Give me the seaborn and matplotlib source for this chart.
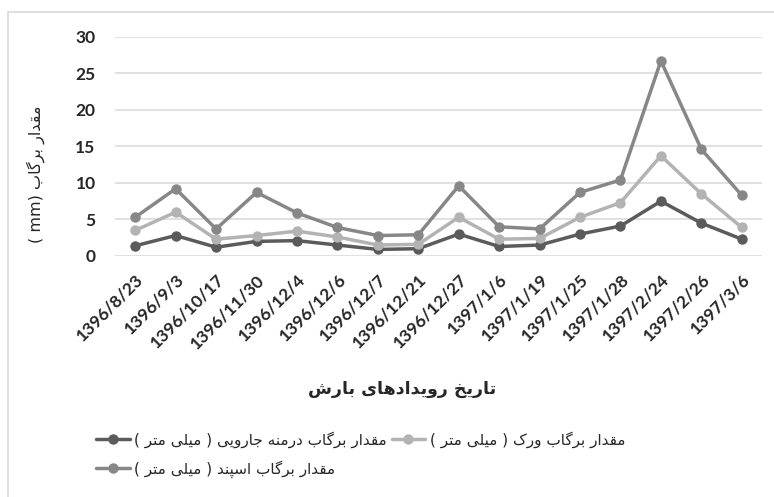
import matplotlib
matplotlib.use("Agg")
import matplotlib.pyplot as plt
import seaborn as sns
import pandas as pd
from matplotlib.patches import Rectangle

dates = ["1396/8/23", "1396/9/3", "1396/10/17", "1396/11/30", "1396/12/4",
         "1396/12/6", "1396/12/7", "1396/12/21", "1396/12/27", "1397/1/6",
         "1397/1/19", "1397/1/25", "1397/1/28", "1397/2/24", "1397/2/26",
         "1397/3/6"]
darmaneh = [1.4, 2.8, 1.2, 2.0, 2.1, 1.5, 0.9, 1.0, 3.0, 1.3, 1.5, 3.0, 4.1, 7.5, 4.5, 2.3]
vark = [3.5, 6.0, 2.3, 2.8, 3.4, 2.6, 1.5, 1.6, 5.3, 2.3, 2.4, 5.3, 7.3, 13.7, 8.5, 3.9]
espand = [5.3, 9.2, 3.7, 8.7, 5.9, 3.9, 2.8, 2.9, 9.6, 4.0, 3.7, 8.7, 10.4, 26.7, 14.6, 8.3]
y_ticks = [0, 5, 10, 15, 20, 25, 30]

series_names = ["مقدار برگاب درمنه جارویی ( میلی متر )",
                "مقدار برگاب ورک ( میلی متر )",
                "مقدار برگاب اسپند ( میلی متر )"]
x_title = "تاریخ رویدادهای بارش"
y_title = "مقدار برگاب (mm )"

# simple persian shaping (no arabic_reshaper in the sandbox)
FORMS = {
    "ا": ("\uFE8D", "\uFE8E", None, None),
    "ب": ("\uFE8F", "\uFE90", "\uFE91", "\uFE92"),
    "ت": ("\uFE95", "\uFE96", "\uFE97", "\uFE98"),
    "ج": ("\uFE9D", "\uFE9E", "\uFE9F", "\uFEA0"),
    "خ": ("\uFEA5", "\uFEA6", "\uFEA7", "\uFEA8"),
    "د": ("\uFEA9", "\uFEAA", None, None),
    "ر": ("\uFEAD", "\uFEAE", None, None),
    "س": ("\uFEB1", "\uFEB2", "\uFEB3", "\uFEB4"),
    "ش": ("\uFEB5", "\uFEB6", "\uFEB7", "\uFEB8"),
    "ق": ("\uFED5", "\uFED6", "\uFED7", "\uFED8"),
    "ل": ("\uFEDD", "\uFEDE", "\uFEDF", "\uFEE0"),
    "م": ("\uFEE1", "\uFEE2", "\uFEE3", "\uFEE4"),
    "ن": ("\uFEE5", "\uFEE6", "\uFEE7", "\uFEE8"),
    "ه": ("\uFEE9", "\uFEEA", "\uFEEB", "\uFEEC"),
    "و": ("\uFEED", "\uFEEE", None, None),
    "پ": ("\uFB56", "\uFB57", "\uFB58", "\uFB59"),
    "ک": ("\uFB8E", "\uFB8F", "\uFB90", "\uFB91"),
    "گ": ("\uFB92", "\uFB93", "\uFB94", "\uFB95"),
    "ی": ("\uFBFC", "\uFBFD", "\uFBFE", "\uFBFF"),
}
MIRROR = {"(": ")", ")": "("}


def fa(text):
    out = []
    for i, ch in enumerate(text):
        if ch not in FORMS:
            out.append(MIRROR.get(ch, ch))
            continue
        prev = text[i - 1] if i > 0 else ""
        nxt = text[i + 1] if i + 1 < len(text) else ""
        join_prev = prev in FORMS and FORMS[prev][2] is not None
        join_next = nxt in FORMS and FORMS[ch][2] is not None
        iso, fin, ini, med = FORMS[ch]
        if join_prev and join_next:
            out.append(med)
        elif join_prev:
            out.append(fin)
        elif join_next:
            out.append(ini)
        else:
            out.append(iso)
    return "".join(reversed(out))


colors = ["#5b5b5b", "#b3b3b3", "#878787"]

df = pd.DataFrame({
    "date": dates * 3,
    "value": darmaneh + vark + espand,
    "series": [series_names[0]] * len(dates) + [series_names[1]] * len(dates)
              + [series_names[2]] * len(dates),
})

sns.set_style("white")
fig = plt.figure(figsize=(7.74, 4.97), dpi=100)
ax = fig.add_axes([115 / 774, 1 - 256 / 497, (762 - 115) / 774, (256 - 36.7) / 497])

sns.lineplot(data=df, x="date", y="value", hue="series", hue_order=series_names,
             palette=colors, marker="o", markersize=7.5, markeredgewidth=0,
             linewidth=2.5, sort=False, ax=ax)

ax.set_xlim(-0.5, len(dates) - 0.5)
ax.set_ylim(0, 30)
ax.set_yticks(y_ticks)
ax.yaxis.grid(True, color="#d9d9d9", linewidth=1.1)
ax.xaxis.grid(False)
for s in ax.spines.values():
    s.set_visible(False)
ax.set_xlabel("")
ax.set_ylabel("")
ax.tick_params(axis="both", length=0)
ax.set_yticklabels([str(t) for t in y_ticks], fontfamily="Lato", fontweight="bold",
                   fontsize=12.5)
ax.tick_params(axis="y", pad=14)
ax.set_xticks(range(len(dates)))
ax.set_xticklabels(dates, rotation=45, ha="right", va="top", rotation_mode="anchor",
                   fontfamily="Lato", fontweight="bold", fontsize=12.5)
ax.tick_params(axis="x", pad=11)

handles, labels = ax.get_legend_handles_labels()
ax.get_legend().remove()
order = [0, 2, 1]
fig.legend([handles[i] for i in order], [fa(series_names[i]) for i in order],
           loc="upper left", bbox_to_anchor=(90 / 774, 1 - 425 / 497), ncol=2,
           frameon=False, prop={"family": "DejaVu Sans", "size": 11},
           handlelength=2.2, handletextpad=0.3, columnspacing=0.3, labelspacing=0.8,
           borderaxespad=0)

fig.text(402 / 774, 1 - 389 / 497, fa(x_title), ha="center", va="center",
         family="DejaVu Sans", fontweight="bold", fontsize=12.5)
fig.text(36 / 774, 1 - 174 / 497, fa(y_title), ha="center", va="center",
         rotation=90, family="DejaVu Sans", fontsize=11.5)

fig.patches.append(Rectangle((8 / 774, -0.1), 1.2, 1.1 - 12 / 497,
                             transform=fig.transFigure, fill=False,
                             edgecolor="#d9d9d9", linewidth=1.2))

plt.savefig("out.png", dpi=100)
plt.close()
